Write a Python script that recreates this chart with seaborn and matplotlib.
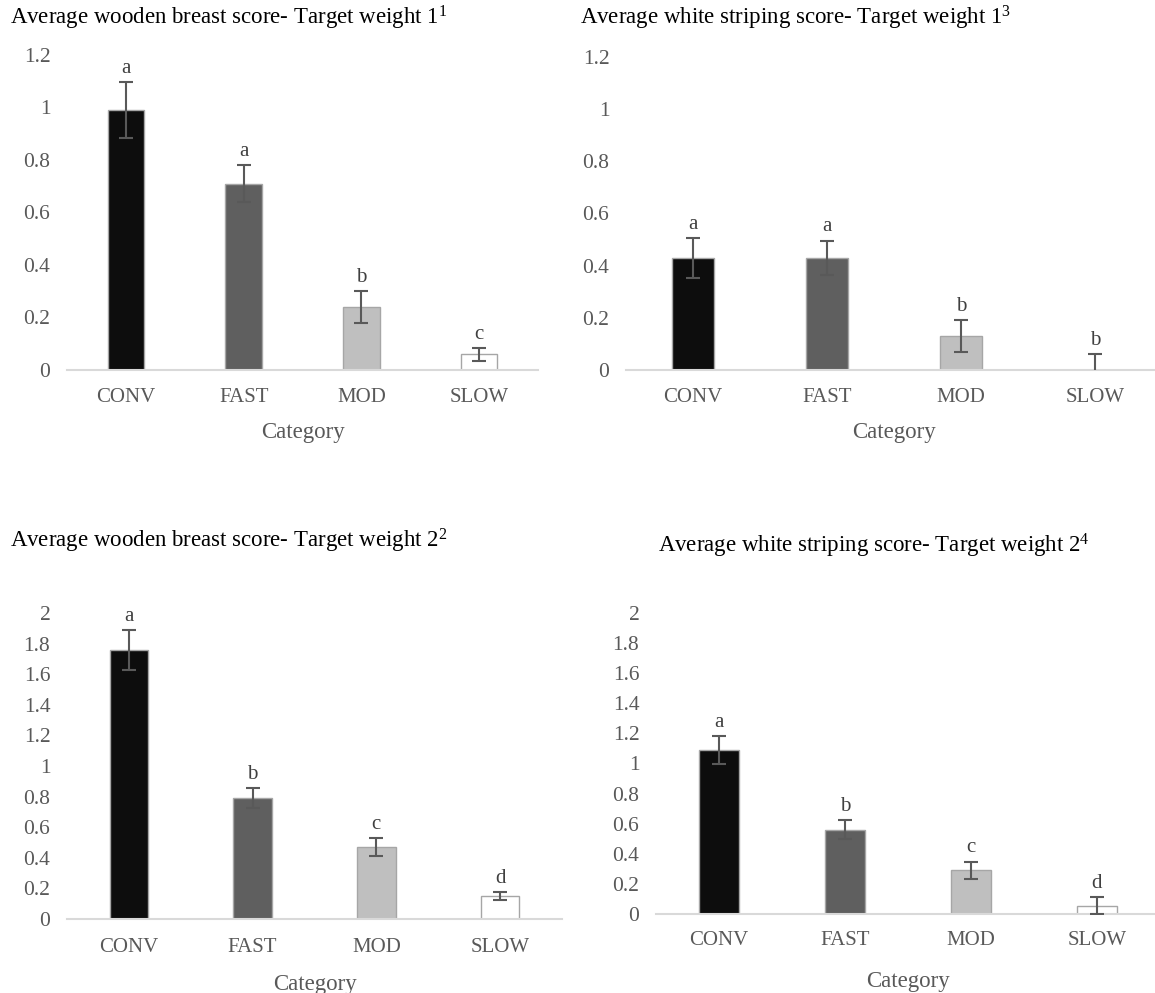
import numpy as np
import pandas as pd
import seaborn as sns
import matplotlib.pyplot as plt

# --- data ---
categories = ["CONV", "FAST", "MOD", "SLOW"]
bar_colors = ["#0d0d0d", "#5f5f5f", "#bfbfbf", "#ffffff"]

wb1_mean = [0.99, 0.71, 0.24, 0.06]
wb1_se = [0.107, 0.071, 0.061, 0.025]
wb1_letters = ["a", "a", "b", "c"]

ws1_mean = [0.43, 0.43, 0.13, 0.0]
ws1_se = [0.077, 0.066, 0.061, 0.061]
ws1_letters = ["a", "a", "b", "b"]

wb2_mean = [1.76, 0.79, 0.47, 0.15]
wb2_se = [0.13, 0.067, 0.06, 0.027]
wb2_letters = ["a", "b", "c", "d"]

ws2_mean = [1.09, 0.56, 0.29, 0.055]
ws2_se = [0.09, 0.064, 0.058, 0.055]
ws2_letters = ["a", "b", "c", "d"]

titles = [
    "Average wooden breast score- Target weight 1$^{1}$",
    "Average white striping score- Target weight 1$^{3}$",
    "Average wooden breast score- Target weight 2$^{2}$",
    "Average white striping score- Target weight 2$^{4}$",
]
y_max = [1.2, 1.2, 2.0, 2.0]

sns.set_theme(style="white")
plt.rcParams["font.family"] = ["Liberation Serif", "DejaVu Serif"]
plt.rcParams["mathtext.fontset"] = "custom"
plt.rcParams["mathtext.rm"] = "Liberation Serif"
plt.rcParams["mathtext.it"] = "Liberation Serif"
plt.rcParams["mathtext.bf"] = "Liberation Serif"

fig = plt.figure(figsize=(11.55, 9.93), dpi=100)

# axes boxes in figure pixels: left, bottom(y of zero line), right, top
boxes = [
    (67, 370, 538, 55),
    (626, 370, 1162, 57),
    (67, 919, 562, 613),
    (656, 914, 1160, 613),
]
title_pos = [(10, 18), (580, 18), (10, 541), (658, 546)]
tick_pad = [13, 13, 14, 12]
label_pad = [11, 11, 12, 15]

panels = [
    (wb1_mean, wb1_se, wb1_letters),
    (ws1_mean, ws1_se, ws1_letters),
    (wb2_mean, wb2_se, wb2_letters),
    (ws2_mean, ws2_se, ws2_letters),
]

W, H = 1155, 993
for k, (means, ses, letters) in enumerate(panels):
    l, b, r, t = boxes[k]
    ax = fig.add_axes([l / W, 1 - b / H, (r - l) / W, (b - t) / H])
    df = pd.DataFrame({"cat": categories, "val": means})
    sns.barplot(data=df, x="cat", y="val", hue="cat", palette=bar_colors,
                width=0.31, edgecolor="#a6a6a6", linewidth=1.0,
                legend=False, ax=ax)
    ax.errorbar(np.arange(4), means, yerr=ses, fmt="none", ecolor="#595959",
                elinewidth=1.5, capsize=5, capthick=1.5, zorder=3)
    for i, let in enumerate(letters):
        ax.annotate(let, (i, means[i] + ses[i]), xytext=(0, 3),
                    textcoords="offset points", ha="center", va="bottom",
                    fontsize=15, color="#404040")
    ax.set_xlim(-0.5, 3.5)
    ax.set_ylim(0, y_max[k])
    ticks = np.round(np.arange(0, y_max[k] + 0.001, 0.2), 1)
    ax.set_yticks(ticks)
    ax.set_yticklabels([f"{v:g}" for v in ticks])
    ax.tick_params(axis="both", length=0, labelcolor="#595959")
    ax.tick_params(axis="y", pad=12, labelsize=15.5)
    ax.tick_params(axis="x", pad=tick_pad[k], labelsize=15)
    ax.set_xlabel("Category", fontsize=16.5, color="#595959", labelpad=label_pad[k])
    ax.set_ylabel("")
    for s in ["top", "right", "left"]:
        ax.spines[s].set_visible(False)
    ax.spines["bottom"].set_color("#d9d9d9")
    ax.spines["bottom"].set_linewidth(1.5)
    ax.set_facecolor("none")
    tx, ty = title_pos[k]
    fig.text(tx / W, 1 - ty / H, titles[k], fontsize=16.5, color="#000000",
             ha="left", va="center")

fig.savefig("out.png", dpi=100, facecolor="white")
